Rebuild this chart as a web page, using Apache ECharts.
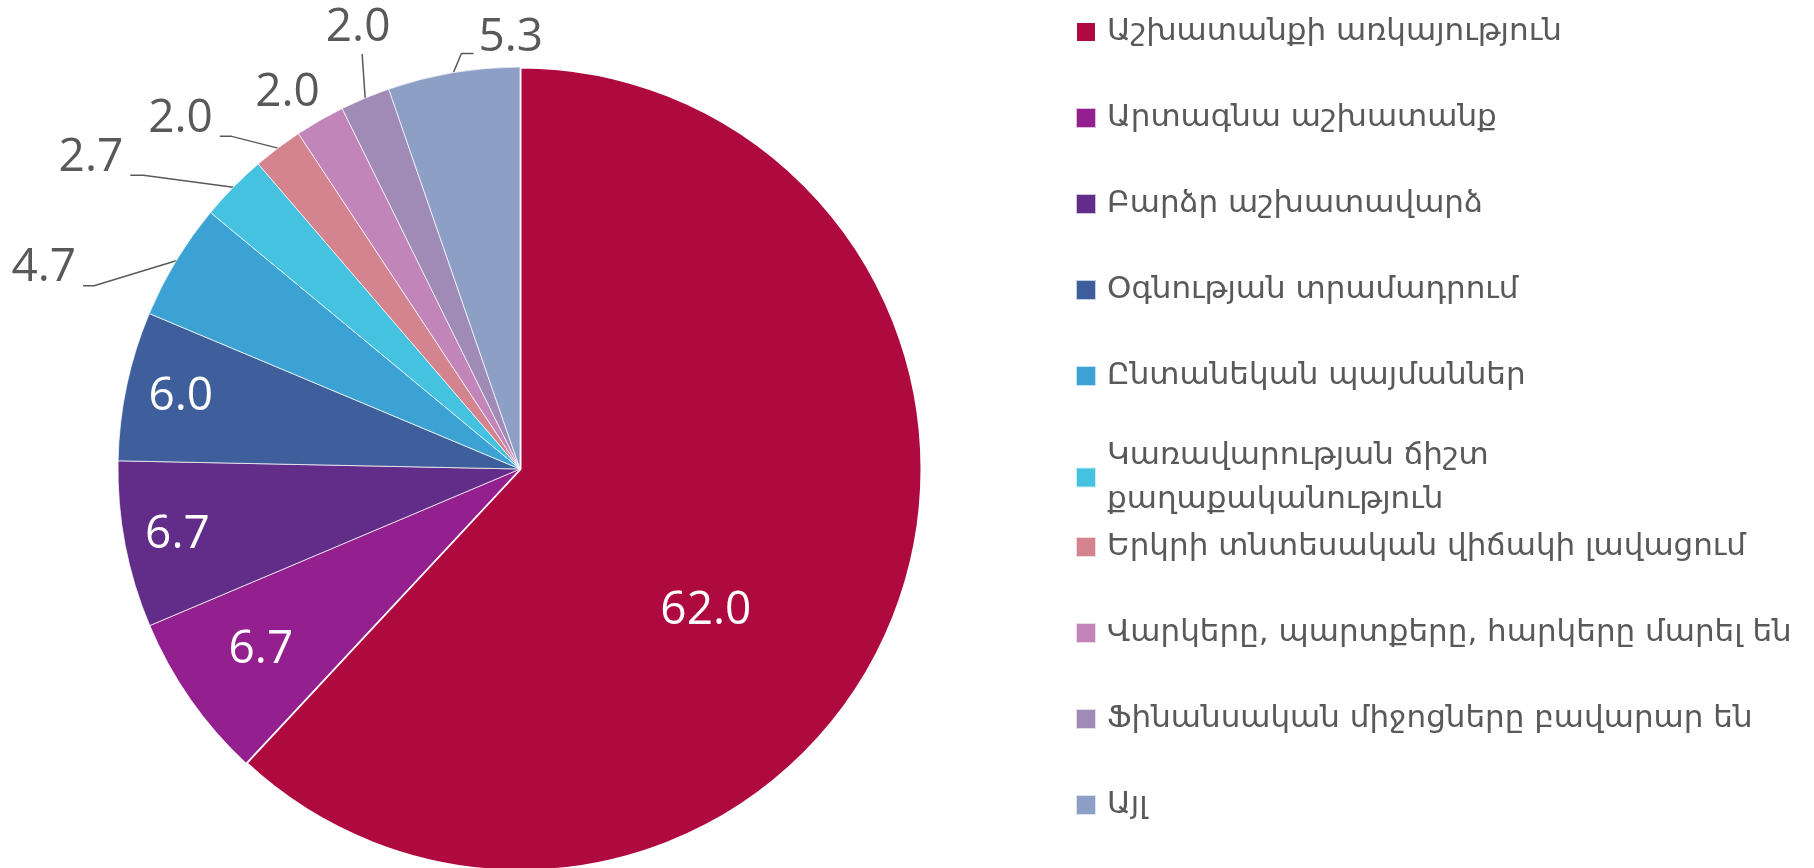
<!DOCTYPE html>
<html><head><meta charset="utf-8">
<script src="https://cdn.jsdelivr.net/npm/echarts@6/dist/echarts.min.js"></script>
<style>html,body{margin:0;padding:0;background:#fff}#c{width:1814px;height:868px}</style>
</head><body><div id="c"></div>
<script>
const categories = [
  'Աշխատանքի առկայություն',
  'Արտագնա աշխատանք',
  'Բարձր աշխատավարձ',
  'Օգնության տրամադրում',
  'Ընտանեկան պայմաններ',
  'Կառավարության ճիշտ քաղաքականություն',
  'Երկրի տնտեսական վիճակի լավացում',
  'Վարկերը, պարտքերը, հարկերը մարել են',
  'Ֆինանսական միջոցները բավարար են',
  'Այլ'
];
const values = [62.0, 6.7, 6.7, 6.0, 4.7, 2.7, 2.0, 2.0, 2.0, 5.3];
const colors = ['#AE0A40','#93208E','#622D89','#3E5F9B','#3BA2D3','#44C2E0','#D3848F','#C185B9','#A08AB6','#8E9FC6'];

// styling / layout config (not data)
const CX = 520, CY = 469, R = 402;
const insidePlace = { 0: {frac: 0.5, dx: -4, dy: 67}, 1: {frac: 0.775}, 2: {frac: 0.855}, 3: {frac: 0.85} };
const leaders = {
  4: {bend: [-82, 25],  end: [-93, 25],  align: 'right',  dx: -7, dy: -18},
  5: {bend: [-90, -12], end: [-103, -12], align: 'right', dx: -7, dy: -17},
  6: {bend: [-47, -12], end: [-58, -12], align: 'right',  dx: -7, dy: -17},
  7: {bend: [0, 0],     end: [0, 0],     align: 'right',  dx: 0,  dy: -27},
  8: {bend: [-3, -44],  end: [-3, -44],  align: 'center', dx: -4, dy: -26},
  9: {bend: [8, -19],   end: [20, -19],  align: 'left',   dx: 5,  dy: -16}
};

const numFont = "'Open Sans', 'Noto Sans', sans-serif";
const legFont = "'DejaVu Sans', sans-serif";

const pieData = categories.map((name, i) => {
  const item = { name, value: values[i], itemStyle: { color: colors[i] } };
  if (i === 0) item.itemStyle = { color: colors[i], borderColor: '#ffffff', borderWidth: 3 };
  if (insidePlace[i]) item.label = { position: 'inside', color: '#ffffff' };
  return item;
});

function legendItems(from, to) {
  return categories.slice(from, to).map((name, k) => {
    const i = from + k;
    if (i === 5) return { name, textStyle: { padding: [0, 0, -44, 6] } };
    return { name };
  });
}

const legendBase = {
  orient: 'vertical',
  left: 1075,
  padding: 0,
  itemGap: 42,
  itemWidth: 20,
  itemHeight: 20,
  icon: 'rect',
  selectedMode: false,
  formatter: name => name === categories[5] ? name.replace('ճիշտ ', 'ճիշտ\n') : name,
  textStyle: { fontSize: 31, color: '#595959', fontFamily: legFont, lineHeight: 44, padding: [0, 0, 0, 6] }
};

const chart = echarts.init(document.getElementById('c'), null, { renderer: 'canvas' });
chart.setOption({
  backgroundColor: '#ffffff',
  animation: false,
  color: colors,
  legend: [
    Object.assign({}, legendBase, { top: 10, data: legendItems(0, 6) }),
    Object.assign({}, legendBase, { top: 525, data: legendItems(6, 10) })
  ],
  series: [{
    type: 'pie',
    center: [CX, CY],
    radius: R,
    startAngle: 90,
    clockwise: true,
    avoidLabelOverlap: false,
    itemStyle: { borderColor: 'rgba(255,255,255,0.7)', borderWidth: 1 },
    label: {
      show: true,
      position: 'outside',
      formatter: p => Number(p.value).toFixed(1),
      fontSize: 46,
      fontFamily: numFont,
      color: '#595959'
    },
    labelLine: { show: true, length: 20, length2: 10, lineStyle: { color: '#595959', width: 1.5 } },
    emphasis: { disabled: true },
    data: pieData,
    labelLayout: function (p) {
      const i = p.dataIndex;
      if (insidePlace[i]) {
        const s = insidePlace[i];
        const lx = p.labelRect.x + p.labelRect.width / 2;
        const ly = p.labelRect.y + p.labelRect.height / 2;
        const k = s.frac / 0.5 - 1;
        return { dx: k * (lx - CX) + (s.dx || 0), dy: k * (ly - CY) + (s.dy || 0) };
      }
      const L = leaders[i];
      if (!L || !p.labelLinePoints) return {};
      const p0 = p.labelLinePoints[0];
      const b = [p0[0] + L.bend[0], p0[1] + L.bend[1]];
      const e = [p0[0] + L.end[0], p0[1] + L.end[1]];
      return {
        x: e[0] + L.dx,
        y: e[1] + L.dy,
        align: L.align,
        verticalAlign: 'middle',
        labelLinePoints: [p0, b, e]
      };
    }
  }]
});
</script>
</body></html>
